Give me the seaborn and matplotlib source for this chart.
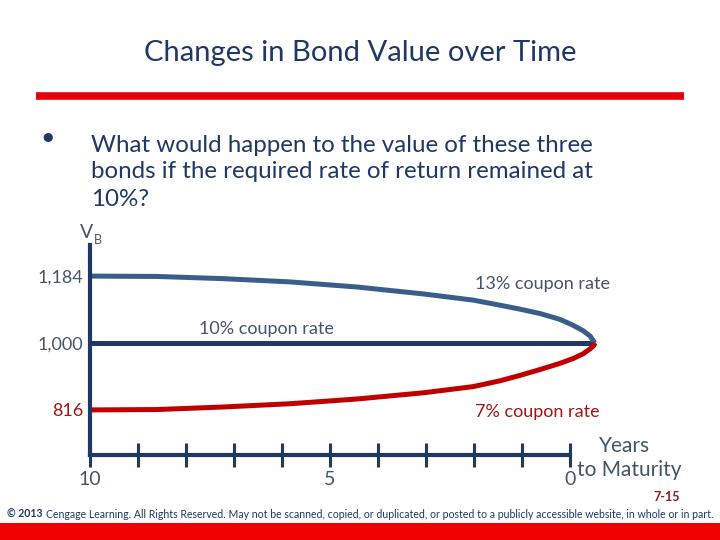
import numpy as np
import pandas as pd
import matplotlib
matplotlib.use("Agg")
import matplotlib.pyplot as plt
import seaborn as sns

# values (years to maturity, bond value)
years_13 = [10, 8.6, 7.23, 5.83, 4.44, 3.06, 2.02, 1.46, 1.04, 0.625, 0.21, -0.06, -0.27, -0.42, -0.5, -0.52]
value_13 = [1184, 1183, 1177, 1168, 1154, 1135, 1118, 1104, 1093, 1081, 1065, 1049, 1034, 1019, 1003, 1000]
years_7 = [10, 8.6, 7.23, 5.83, 4.44, 3.06, 2.02, 1.46, 1.04, 0.625, 0.21, -0.06, -0.27, -0.42, -0.5, -0.52]
value_7 = [816, 817, 824, 833, 846, 863, 880, 896, 911, 927, 944, 957, 970, 984, 994, 1000]
years_10 = [10, -0.52]
value_10 = [1000, 1000]

ytick_vals = [1184, 1000, 816]
ytick_text = ["1,184", "1,000", "816"]
xtick_vals = [10, 5, 0]

NAVY = "#1F3864"
BLUE = "#3A5E8C"
RED = "#C00000"
GREY = "#44546A"

sns.set_style("white")
plt.rcParams["font.family"] = ["Lato", "DejaVu Sans"]

W, H = 720, 540
fig = plt.figure(figsize=(7.2, 5.4), dpi=100)


def fx(px):
    return px / W


def fy(py):
    return 1 - py / H


# slide decorations
fig.text(fx(360), fy(53), "Changes in Bond Value over Time", ha="center", va="center",
         fontsize=21, color=NAVY)
fig.add_artist(plt.Line2D([fx(36), fx(684)], [fy(96), fy(96)], color="#E8000B", lw=5.5,
                          solid_capstyle="butt"))
fig.text(fx(48), fy(138), "\u2022", ha="center", va="center", fontsize=18, color=NAVY)
body = ["What would happen to the value of these three",
        "bonds if the required rate of return remained at",
        "10%?"]
for i, line in enumerate(body):
    fig.text(fx(91), fy(145 + 27 * i), line, ha="left", va="center", fontsize=17.4, color=NAVY)

# chart axes
ax = fig.add_axes([fx(90), fy(455), fx(620) - fx(90), fy(245) - fy(455)])
ax.patch.set_alpha(0)

df13 = pd.DataFrame({"years": years_13, "value": value_13})
df7 = pd.DataFrame({"years": years_7, "value": value_7})
df10 = pd.DataFrame({"years": years_10, "value": value_10})

sns.lineplot(data=df10, x="years", y="value", ax=ax, color=NAVY, lw=3.6, sort=False,
             solid_capstyle="butt")
sns.lineplot(data=df13, x="years", y="value", ax=ax, color=BLUE, lw=3.6, sort=False,
             solid_capstyle="butt")
sns.lineplot(data=df7, x="years", y="value", ax=ax, color=RED, lw=3.6, sort=False,
             solid_capstyle="butt")

ax.set_xlim(10, 10 - 530 / 48)
ax.set_ylim(692, 1269.5)
ax.set_xlabel("")
ax.set_ylabel("")

for side in ["top", "right"]:
    ax.spines[side].set_visible(False)
for side in ["left", "bottom"]:
    ax.spines[side].set_color(NAVY)
    ax.spines[side].set_linewidth(3)
ax.spines["bottom"].set_bounds(0, 10)

ax.set_xticks(range(0, 11))
ax.set_xticklabels([str(t) if t in xtick_vals else "" for t in range(0, 11)])
ax.tick_params(axis="x", bottom=True, direction="inout", length=17, width=2.2, color=NAVY,
               pad=3, labelsize=14, labelcolor=GREY)
ax.set_yticks(ytick_vals)
ax.set_yticklabels(ytick_text)
ax.tick_params(axis="y", left=False, length=0, pad=5, labelsize=13)
for lab, c in zip(ax.get_yticklabels(), [GREY, GREY, "#A31515"]):
    lab.set_color(c)

ax.text(0.58, 1162, "13% coupon rate", ha="center", va="center", fontsize=13, color=GREY)
ax.text(6.33, 1038, "10% coupon rate", ha="center", va="center", fontsize=13, color=GREY)
ax.text(0.69, 810, "7% coupon rate", ha="center", va="center", fontsize=13, color="#A31515")

fig.text(fx(80), fy(232), "V", ha="left", va="center", fontsize=14, color=GREY)
fig.text(fx(94), fy(240), "B", ha="left", va="center", fontsize=9, color=GREY)
fig.text(fx(625), fy(446), "Years", ha="center", va="center", fontsize=15, color=GREY)
fig.text(fx(629), fy(470), "to Maturity", ha="center", va="center", fontsize=15, color=GREY)

fig.text(fx(680), fy(497), "7-15", ha="right", va="center", fontsize=9, color="#8B1A1A",
         fontweight="bold")

# footer: bold year part, then the rest right after it
bold_part = fig.text(fx(7), fy(514), "\u00a9 2013", ha="left", va="center", fontsize=7.6,
                     color=NAVY, fontweight="bold")
fig.canvas.draw()
bb = bold_part.get_window_extent()
fig.text(bb.x1 / W + fx(3), fy(514),
         "Cengage Learning. All Rights Reserved. May not be scanned, copied, or "
         "duplicated, or posted to a publicly accessible website, in whole or in part.",
         ha="left", va="center", fontsize=7.6, color=NAVY)
fig.add_artist(plt.Rectangle((0, 0), 1, fy(523), transform=fig.transFigure,
                             color="#F00000", lw=0))

fig.savefig("out.png", dpi=100)
